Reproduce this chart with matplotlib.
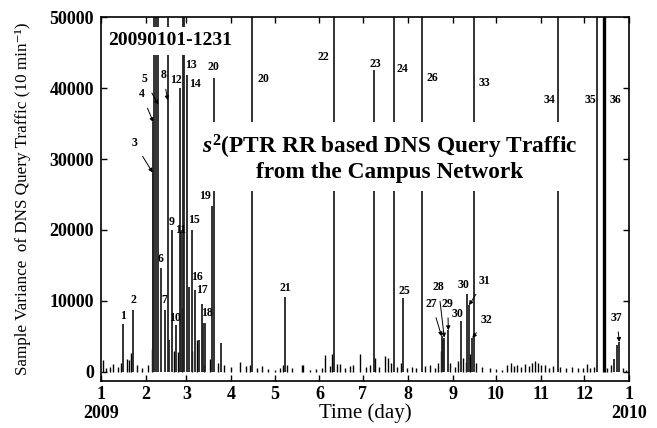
import numpy as np
import matplotlib.pyplot as plt

plt.rcParams['font.family'] = ['Liberation Serif', 'DejaVu Serif']
plt.rcParams['mathtext.fontset'] = 'custom'
plt.rcParams['mathtext.it'] = 'Liberation Serif:italic:bold'
plt.rcParams['mathtext.rm'] = 'Liberation Serif:bold'

# day of year (0 = Jan 1 2009) and sample variance of each spike
# values above 50000 run off the top of the frame
big_days = [15.0, 22.3, 35.7, 36.2, 36.8, 38.0, 39.6, 41.3, 44.2, 46.1,
            47.2, 48.9, 51.8, 54.6, 55.5, 56.9, 57.6, 59.2, 60.8, 62.7,
            65.0, 67.7, 69.6, 70.3, 71.9, 76.5, 78.3, 82.7, 104.6, 127.0,
            161.3, 188.5, 202.5, 209.0, 221.7, 235.5, 236.4, 237.3, 240.1, 248.9,
            253.2, 254.4, 256.7, 257.8, 315.7, 343.1, 347.5, 354.8, 356.9, 358.3]
big_vals = [6800, 8780, 28100, 35200, 60000, 60000, 60000, 14570, 8780, 60000,
            4450, 19980, 6560, 40000, 20000, 60000, 60000, 41800, 12000, 19980,
            11500, 4450, 9630, 6850, 6900, 23400, 41500, 4070, 60000, 10560,
            60000, 42500, 60000, 10470, 60000, 5000, 4600, 4830, 5860, 7170,
            10940, 9390, 4770, 60000, 60000, 60000, 60000, 1860, 3740, 4210]
thick_days = [347.5]

small_days = [1.2, 3.5, 6.2, 8.3, 11.8, 13.8, 18.0, 19.4, 20.5, 24.9,
              28.3, 32.5, 35.0, 50.3, 53.2, 56.2, 62.9, 66.4, 71.2, 75.3,
              80.9, 85.0, 89.9, 96.1, 100.2, 103.0, 107.8, 111.3, 115.4, 120.3,
              123.7, 125.8, 128.6, 132.0, 138.7, 139.9, 144.5, 148.6, 152.8, 154.8,
              158.3, 159.4, 163.0, 165.2, 168.7, 172.1, 174.2, 179.0, 183.2, 186.0,
              189.1, 192.2, 196.3, 198.6, 200.5, 204.6, 207.4, 211.5, 214.9, 217.7,
              224.0, 227.4, 230.9, 233.0, 235.0, 241.3, 244.7, 246.8, 250.2, 252.3,
              255.1, 259.2, 263.4, 268.9, 273.1, 277.2, 280.7, 283.4, 285.5, 287.6,
              290.3, 293.1, 295.9, 297.9, 300.0, 302.1, 304.2, 306.9, 309.7, 312.4,
              317.3, 321.4, 325.6, 329.7, 333.2, 335.7, 338.0, 340.8, 349.8, 352.5,
              360.8, 362.9]
small_vals = [1620, 500, 700, 1100, 700, 1270, 1800, 1700, 2600, 900,
              600, 900, 3270, 3000, 2800, 9000, 3000, 4500, 1000, 1800,
              1200, 1000, 700, 1380, 800, 1000, 600, 780, 400, 300,
              500, 900, 1000, 500, 900, 900, 300, 400, 600, 2330,
              800, 2470, 1160, 1160, 600, 800, 1000, 2570, 700, 900,
              1900, 700, 2200, 1900, 1200, 700, 1200, 500, 700, 600,
              800, 1000, 600, 1200, 3000, 1300, 700, 1500, 2000, 1400,
              2500, 1200, 700, 500, 400, 300, 900, 1200, 800, 1000,
              700, 1100, 800, 1300, 1500, 1200, 900, 1000, 600, 800,
              700, 500, 700, 500, 600, 1160, 500, 700, 500, 900,
              600, 300]

month_starts = [0, 31, 59, 90, 120, 151, 181, 212, 243, 273, 304, 334, 365]
month_labels = ['1\n2009', '2', '3', '4', '5', '6', '7', '8', '9', '10', '11', '12', '1\n2010']

# spike labels: text, label position (day, value), arrow target or None
labels = [
    ('1', 14.9, 7840, None), ('2', 22.1, 10090, None),
    ('3', 23.0, 32300, (35.7, 28100)), ('4', 28.1, 39140, (36.2, 35200)),
    ('5', 29.9, 41250, (39.6, 37700)), ('6', 41.5, 15880, None),
    ('7', 43.6, 10090, None), ('8', 43.1, 41860, (46.1, 38300)),
    ('9', 49.1, 21100, None), ('10', 51.2, 7550, None),
    ('11', 55.0, 19980, None), ('12', 51.6, 41150, None),
    ('13', 62.2, 43270, None), ('14', 65.0, 40550, None),
    ('15', 64.3, 21390, None), ('16', 66.4, 13400, None),
    ('17', 69.6, 11600, None), ('18', 73.3, 8260, None),
    ('19', 71.9, 24780, None), ('20', 77.6, 43030, None),
    ('20', 112.2, 41300, None), ('21', 127.2, 11790, None),
    ('22', 153.7, 44440, None), ('23', 189.4, 43370, None),
    ('24', 208.3, 42710, None), ('25', 209.5, 11370, None),
    ('26', 229.3, 41470, None), ('27', 228.6, 9630, (235.5, 5000)),
    ('28', 233.2, 11970, (237.3, 4830)), ('29', 239.7, 9630, (240.1, 5860)),
    ('30', 246.6, 8120, None), ('30', 250.5, 12210, None),
    ('31', 265.0, 12820, (254.4, 9390)), ('32', 266.6, 7370, (256.7, 4770)),
    ('33', 265.0, 40670, None), ('34', 309.9, 38330, None),
    ('35', 338.0, 38330, None), ('36', 355.3, 38330, None),
    ('37', 356.5, 7650, (358.3, 4210)),
]

fig = plt.figure(figsize=(6.57, 4.28), dpi=100)
ax = fig.add_axes([0.1537, 0.1098, 0.8037, 0.8498])

ax.vlines(small_days, 0, small_vals, colors='black', lw=1.0)
ax.vlines(big_days, 0, big_vals, colors='#222222', lw=1.3)
thick_vals = [big_vals[big_days.index(d)] for d in thick_days]
ax.vlines(thick_days, 0, thick_vals, colors='black', lw=2.4)

ax.set_xlim(0, 365)
ax.set_ylim(-1300, 50000)
ax.set_xticks(month_starts)
ax.set_xticklabels(month_labels, fontweight='bold', fontsize=13)
ax.set_yticks([0, 10000, 20000, 30000, 40000, 50000])
ax.set_yticklabels(['0', '10000', '20000', '30000', '40000', '50000'],
                   fontweight='bold', fontsize=13)
ax.tick_params(direction='in', length=4, top=True, right=True, width=1)
ax.tick_params(axis='y', pad=5)
for s in ax.spines.values():
    s.set_linewidth(1.2)

ax.set_xlabel('Time (day)', fontsize=15, labelpad=-14)
ax.set_ylabel('Sample Variance  of DNS Query Traffic (10 min\u207b\u00b9)', fontsize=12.3,
              labelpad=13)

for txt, lx, ly, tgt in labels:
    if tgt is None:
        ax.text(lx, ly, txt, fontsize=8.5, fontweight='bold', ha='center', va='center')
    else:
        ax.annotate(txt, xy=tgt, xytext=(lx, ly), fontsize=8.5, fontweight='bold',
                    ha='center', va='center',
                    arrowprops=dict(arrowstyle='-|>', lw=0.7, color='black',
                                    mutation_scale=6, shrinkA=4, shrinkB=0))

ax.text(0.131, 0.935, '20090101-1231', transform=ax.transAxes, fontsize=14,
        fontweight='bold', ha='center', va='center',
        bbox=dict(facecolor='white', edgecolor='none', pad=4))
ax.text(0.547, 0.6145, '$s^2$(PTR RR based DNS Query Traffic\nfrom the Campus Network',
        transform=ax.transAxes, fontsize=16.8, fontweight='bold', ha='center', va='center',
        linespacing=1.05, bbox=dict(facecolor='white', edgecolor='none', pad=6))

fig.savefig('out.png', dpi=100)
